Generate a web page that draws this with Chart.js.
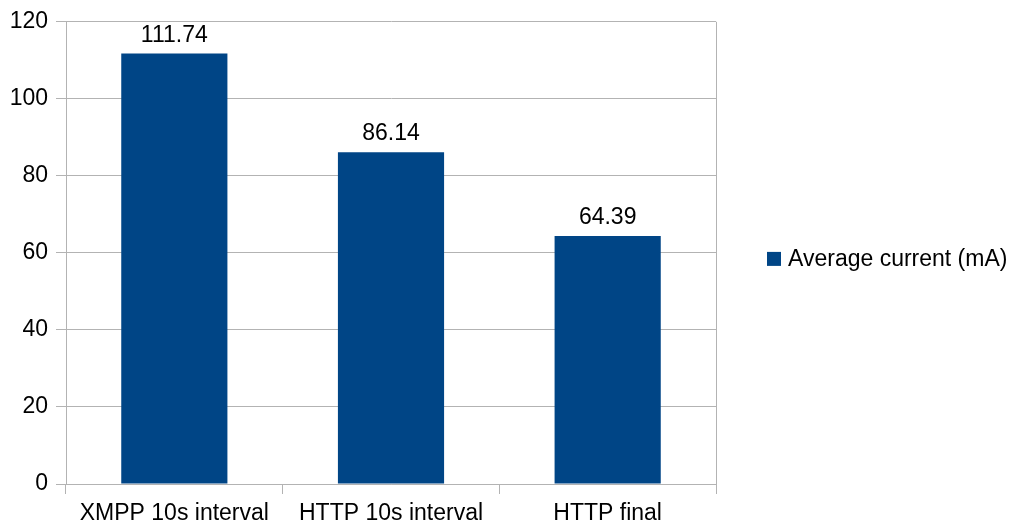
<!DOCTYPE html>
<html>
<head>
<meta charset="utf-8">
<script src="https://cdn.jsdelivr.net/npm/chart.js@4/dist/chart.umd.min.js"></script>
<style>
  html, body { margin: 0; padding: 0; background: #ffffff; }
  #wrap { width: 1018px; height: 530px; position: relative; }
</style>
</head>
<body>
<div id="wrap"><canvas id="c" width="1018" height="530"></canvas></div>
<script>
const categories = ["XMPP 10s interval", "HTTP 10s interval", "HTTP final"];
const seriesLabel = "Average current (mA)";
const averageCurrent = [111.74, 86.14, 64.39];
const yMin = 0, yMax = 120, yStep = 20;

const FONT = "'Liberation Sans', Arial, sans-serif";
const BAR = "#004586";
const GRID = "#b3b3b3";
const TEXT = "#000000";

const rightFrame = {
  id: 'rightFrame',
  beforeDatasetsDraw(chart) {
    const ctx = chart.ctx;
    const ca = chart.chartArea;
    const x = Math.round(ca.right) + 0.5;
    ctx.save();
    ctx.strokeStyle = GRID;
    ctx.lineWidth = 1;
    ctx.beginPath();
    ctx.moveTo(x, ca.top);
    ctx.lineTo(x, ca.bottom);
    ctx.stroke();
    ctx.restore();
  }
};

const valueLabels = {
  id: 'valueLabels',
  afterDatasetsDraw(chart) {
    const ctx = chart.ctx;
    ctx.save();
    ctx.font = "23px " + FONT;
    ctx.fillStyle = TEXT;
    ctx.textAlign = 'center';
    ctx.textBaseline = 'alphabetic';
    chart.data.datasets.forEach((ds, i) => {
      chart.getDatasetMeta(i).data.forEach((bar, j) => {
        ctx.fillText(ds.data[j].toFixed(2), bar.x, bar.y - 12);
      });
    });
    ctx.restore();
  }
};

const sideLegend = {
  id: 'sideLegend',
  afterDraw(chart) {
    const ctx = chart.ctx;
    const ca = chart.chartArea;
    const ds = chart.data.datasets[0];
    const cy = (ca.top + ca.bottom) / 2 + 6;
    const x0 = ca.right + 51;
    ctx.save();
    ctx.fillStyle = ds.backgroundColor;
    ctx.fillRect(x0, cy - 7, 14, 14);
    ctx.font = "23px " + FONT;
    ctx.fillStyle = TEXT;
    ctx.textAlign = 'left';
    ctx.textBaseline = 'middle';
    ctx.fillText(ds.label, x0 + 21, cy + 1);
    ctx.restore();
  }
};

new Chart(document.getElementById('c'), {
  type: 'bar',
  data: {
    labels: categories,
    datasets: [{
      label: seriesLabel,
      data: averageCurrent,
      backgroundColor: BAR,
      borderWidth: 0,
      barPercentage: 0.49,
      categoryPercentage: 1.0
    }]
  },
  options: {
    responsive: false,
    animation: false,
    devicePixelRatio: 1,
    layout: { padding: { top: 18.5, right: 302, bottom: 0, left: 0 } },
    plugins: {
      legend: { display: false },
      tooltip: { enabled: false },
      title: { display: false }
    },
    scales: {
      x: {
        offset: true,
        grid: {
          drawOnChartArea: false,
          color: GRID,
          lineWidth: 1, offset: true, drawTicks: true, tickLength: 10
        },
        border: { color: GRID, width: 1 },
        ticks: { color: TEXT, font: { family: FONT, size: 23 }, padding: 6, maxRotation: 0, autoSkip: false },
        afterFit(s) { s.height = 46; }
      },
      y: {
        min: yMin, max: yMax,
        grid: { color: GRID, lineWidth: 1, drawTicks: true, tickLength: 10 },
        border: { color: GRID, width: 1 },
        ticks: { stepSize: yStep, color: TEXT, font: { family: FONT, size: 23 }, padding: 8 },
        afterFit(s) { s.width = 66; }
      }
    }
  },
  plugins: [rightFrame, valueLabels, sideLegend]
});
</script>
</body>
</html>
